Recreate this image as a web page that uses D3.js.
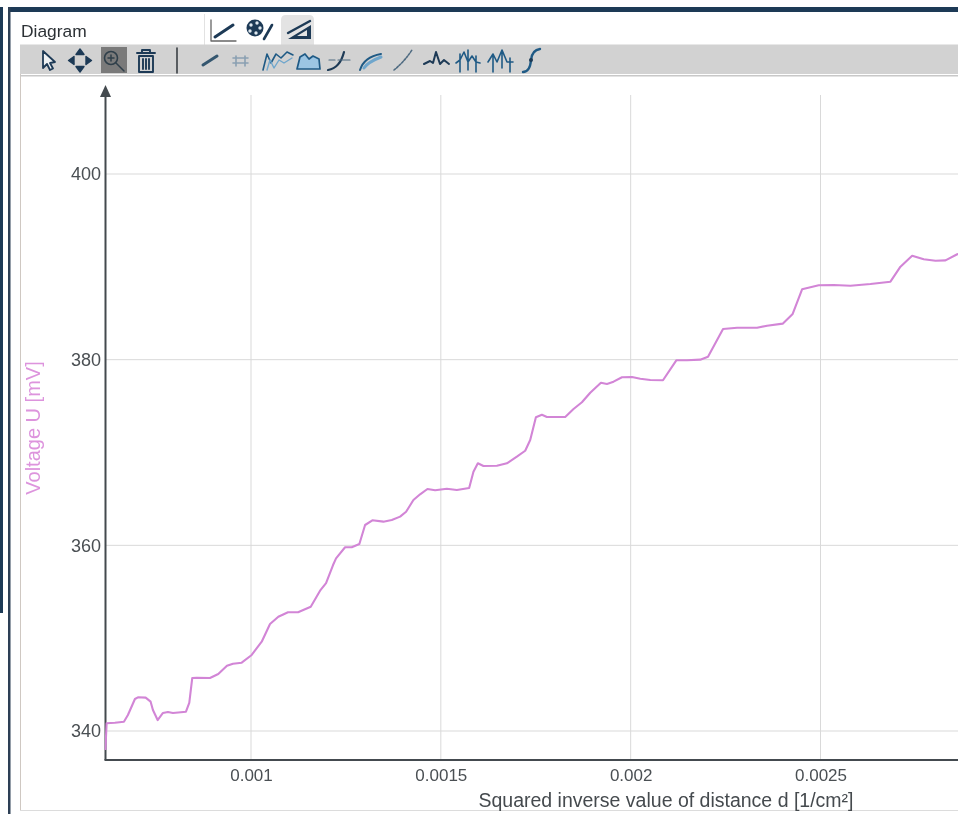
<!DOCTYPE html>
<html><head><meta charset="utf-8">
<style>html,body{margin:0;padding:0;background:#fff;overflow:hidden}svg{display:block;filter:blur(0.45px)}
text{font-family:"Liberation Sans",Arial,sans-serif}</style>
<script src="https://cdn.jsdelivr.net/npm/d3@7"></script></head><body>
<script>
const distance = [0.6165,0.6197,0.6415,0.6653,0.6758,0.6943,0.7022,0.7225,0.7356,0.7417,0.7541,0.7681,0.7812,0.7944,0.8287,0.8374,0.8453,0.8569,0.8919,0.9138,0.9367,0.9526,0.9755,1.0018,1.0282,1.0501,1.0720,1.0975,1.1239,1.1574,1.1819,1.1977,1.2161,1.2240,1.2478,1.2654,1.2854,1.3005,1.3197,1.3487,1.3708,1.3927,1.4085,1.4278,1.4454,1.4647,1.4850,1.5158,1.5422,1.5746,1.5859,1.5975,1.6123,1.6476,1.6740,1.7003,1.7222,1.7354,1.7504,1.7662,1.7794,1.8276,1.8495,1.8716,1.8935,1.9217,1.9375,1.9549,1.9771,2.0034,2.0253,2.0517,2.0851,2.1202,2.1484,2.1834,2.2037,2.2433,2.2802,2.3329,2.3593,2.4004,2.4267,2.4515,2.4953,2.5348,2.5788,2.6315,2.6842,2.7106,2.7414,2.7720,2.8029,2.8292,2.8601,2.8700].map(v=>v/1000);
const voltage = [337.95,340.83,340.89,341.0,341.72,343.45,343.63,343.59,343.16,342.26,341.18,341.94,342.05,341.94,342.08,343.02,345.71,345.74,345.71,346.14,347.03,347.25,347.36,348.19,349.62,351.53,352.31,352.79,352.79,353.39,355.11,355.94,357.88,358.60,359.79,359.79,360.14,362.19,362.70,362.55,362.73,363.09,363.62,364.88,365.50,366.07,365.93,366.10,365.96,366.18,367.93,368.84,368.55,368.58,368.84,369.55,370.19,371.35,373.79,374.07,373.83,373.83,374.69,375.41,376.44,377.52,377.38,377.63,378.10,378.13,377.95,377.81,377.78,379.93,379.93,380.0,380.32,383.30,383.44,383.44,383.66,383.88,384.92,387.58,388.01,388.05,387.97,388.15,388.40,390.02,391.20,390.81,390.66,390.70,391.35,391.45];
const xTickValues = [0.001,0.0015,0.002,0.0025];
const xTickLabels = ["0.001","0.0015","0.002","0.0025"];
const yTickValues = [340,360,380,400];
const xTitle = "Squared inverse value of distance d [1/cm²]";
const yTitle = "Voltage U [mV]";
const panelTitle = "Diagram";

const W=962,H=814;
const svg=d3.select("body").append("svg").attr("width",W).attr("height",H);
const navy="#1d3a56", icon="#1f5a85", dark="#444a4f";
const x=d3.scaleLinear().domain([0.001,0.0025]).range([251,820.5]);
const y=d3.scaleLinear().domain([340,400]).range([731,174]);
const xL=x.invert(105.5), yB=y.invert(760), yT=y.invert(95), xR=x.invert(958);

// window chrome
svg.append("rect").attr("x",8).attr("y",7).attr("width",950).attr("height",5).attr("fill",navy);
svg.append("rect").attr("x",0).attr("y",7).attr("width",3).attr("height",606).attr("fill",navy);
svg.append("rect").attr("x",8).attr("y",7).attr("width",2.5).attr("height",807).attr("fill","#2d3f55");
svg.append("rect").attr("x",20).attr("y",45).attr("width",1).attr("height",765).attr("fill","#cfc8c2");
svg.append("rect").attr("x",20).attr("y",810).attr("width",938).attr("height",1).attr("fill","#dcdcdc");
svg.append("rect").attr("x",204).attr("y",14).attr("width",1).attr("height",31).attr("fill","#e2e2e2");
svg.append("path").attr("d","M281,45V20q0,-5 5,-5H309q5,0 5,5V45Z").attr("fill","#e3e3e3");
svg.append("rect").attr("x",20).attr("y",44.5).attr("width",938).attr("height",29.5).attr("fill","#d2d2d2");
svg.append("rect").attr("x",20).attr("y",75).attr("width",938).attr("height",1.5).attr("fill","#c8c8c8");
svg.append("text").attr("x",21).attr("y",36.5).attr("font-size",17.4).attr("fill","#2c3135").text(panelTitle);

// tab icons
const ic=svg.append("g").attr("fill","none").attr("stroke-linecap","round").attr("stroke-linejoin","round");
ic.append("path").attr("d","M211,20V41H236").attr("stroke","#666").attr("stroke-width",1.3);
ic.append("path").attr("d","M215,37L233,25").attr("stroke",navy).attr("stroke-width",3);
ic.append("circle").attr("cx",255).attr("cy",28).attr("r",8.5).attr("fill",navy);
[[251,25],[257,23],[260,28],[256,33],[250,31]].forEach(p=>ic.append("circle").attr("cx",p[0]).attr("cy",p[1]).attr("r",1.7).attr("fill","#dfe8ef"));
ic.append("path").attr("d","M264,39L272,25").attr("stroke",navy).attr("stroke-width",2.6);
ic.append("path").attr("d","M288,39H311V25ZM297,36H307V30Z").attr("fill",navy).attr("fill-rule","evenodd");
ic.append("path").attr("d","M288,33L310,21").attr("stroke",navy).attr("stroke-width",2.4);

// toolbar icons
ic.append("path").attr("d","M43,51L43,68L47,64L50,70L53,68.5L50,63L55,62Z").attr("stroke",navy).attr("stroke-width",1.8).attr("fill","#eef1f3");
[[80,52,0],[88.5,60.5,90],[80,69,180],[71.5,60.5,270]].forEach(p=>ic.append("path").attr("d","M-4,2.5L0,-3L4,2.5Z").attr("transform",`translate(${p[0]},${p[1]}) rotate(${p[2]})`).attr("fill",navy).attr("stroke",navy).attr("stroke-width",1.4));
svg.insert("rect","g").attr("x",101).attr("y",47).attr("width",26).attr("height",26).attr("fill","#7a7a7a");
ic.append("circle").attr("cx",111).attr("cy",58).attr("r",6.5).attr("stroke","#2f3f4a").attr("stroke-width",1.6);
ic.append("path").attr("d","M116,63L124,71M108,58H114M111,55V61").attr("stroke","#2f3f4a").attr("stroke-width",1.5);
ic.append("path").attr("d","M137,53H155M142,53V50H150V53M139,56H153V72H139ZM143,59V69M146,59V69M149,59V69").attr("stroke",navy).attr("stroke-width",1.9);
ic.append("path").attr("d","M165,48V73").attr("stroke","#3a3f44").attr("stroke-width",0).attr("opacity",0);
ic.append("path").attr("d","M177,48V73").attr("stroke","#3a3f44").attr("stroke-width",1.6);
ic.append("path").attr("d","M203,65L217,56").attr("stroke","#34566f").attr("stroke-width",3);
ic.append("path").attr("d","M233,58H248M233,63H248M236,56V66M245,56V66").attr("stroke","#8aa0b2").attr("stroke-width",1.6);
ic.append("path").attr("d","M263,70L267,54L271,63L276,54L281,58L287,52L293,55").attr("stroke",icon).attr("stroke-width",1.6);
ic.append("path").attr("d","M267,70L270,60L274,68L279,60L284,63L292,58").attr("stroke","#6fa6cc").attr("stroke-width",1.4);
ic.append("path").attr("d","M297,69L300,57L305,54L309,59L313,56L319,59L320,69Z").attr("fill","#9cc5e3").attr("stroke",icon).attr("stroke-width",1.7);
ic.append("path").attr("d","M328,70Q340,68 344,52").attr("stroke",navy).attr("stroke-width",2.2);
ic.append("path").attr("d","M329,60H335M338,60H350").attr("stroke","#4e6a80").attr("stroke-width",1.2);
ic.append("path").attr("d","M360,70Q364,57 381,54").attr("stroke",icon).attr("stroke-width",2);
ic.append("path").attr("d","M364,68Q368,62 381,57").attr("stroke","#6fa6cc").attr("stroke-width",3);
ic.append("path").attr("d","M394,70Q404,62 412,50").attr("stroke","#4e6a80").attr("stroke-width",1.6).attr("stroke-dasharray","2 1.5");
ic.append("path").attr("d","M424,64L430,61L433,63L436,52L440,64L444,60L449,64").attr("stroke",navy).attr("stroke-width",2);
ic.append("path").attr("d","M456,63L460,60L464,52L468,62L472,56L476,62L480,63M460,54V72M468,50V70M476,56V72").attr("stroke",icon).attr("stroke-width",1.6);
ic.append("path").attr("d","M488,62L493,54L497,62L502,50L507,62L513,62M493,54V72M502,50V68M510,58V72").attr("stroke",icon).attr("stroke-width",1.6);
ic.append("path").attr("d","M523,72Q530,72 531,60Q532,50 540,49").attr("stroke",icon).attr("stroke-width",2.4);
ic.append("circle").attr("cx",531).attr("cy",60).attr("r",2).attr("fill",navy);

// grid
const grid=svg.append("g").attr("stroke","#d9d9d9").attr("stroke-width",1);
grid.selectAll("line.v").data(xTickValues).join("line").attr("x1",d=>x(d)).attr("x2",d=>x(d)).attr("y1",y(yT)).attr("y2",y(yB));
grid.selectAll("line.h").data(yTickValues).join("line").attr("x1",x(xL)).attr("x2",x(xR)).attr("y1",d=>y(d)).attr("y2",d=>y(d));

// axes
const gx=svg.append("g").attr("transform",`translate(0,${y(yB)})`).call(d3.axisBottom(x).tickValues(xTickValues).tickFormat((d,i)=>xTickLabels[i]).tickSize(0).tickPadding(8.5));
gx.select(".domain").remove();
gx.selectAll("text").attr("font-size",17).attr("fill","#4a4f53").style("font-family",'"Liberation Sans",Arial,sans-serif');
const gy=svg.append("g").attr("transform",`translate(${x(xL)},0)`).call(d3.axisLeft(y).tickValues(yTickValues).tickSize(0).tickPadding(4.5));
gy.select(".domain").remove();
gy.selectAll("text").attr("font-size",18).attr("fill","#4a4f53").style("font-family",'"Liberation Sans",Arial,sans-serif');

svg.append("line").attr("x1",x(xL)-1).attr("x2",x(xR)).attr("y1",y(yB)).attr("y2",y(yB)).attr("stroke",dark).attr("stroke-width",2);
svg.append("line").attr("x1",x(xL)).attr("x2",x(xL)).attr("y1",y(yB)).attr("y2",96).attr("stroke",dark).attr("stroke-width",2);
svg.append("path").attr("d",`M${x(xL)-5.5},97L${x(xL)},85L${x(xL)+5.5},97Z`).attr("fill",dark);

// line
svg.append("clipPath").attr("id","c").append("rect").attr("x",x(xL)-1).attr("y",80).attr("width",x(xR)-x(xL)+1).attr("height",680);
svg.append("path").datum(distance.map((d,i)=>[d,voltage[i]])).attr("clip-path","url(#c)")
  .attr("d",d3.line().x(d=>x(d[0])).y(d=>y(d[1]))).attr("fill","none").attr("stroke","#d285d6").attr("stroke-width",2.1).attr("stroke-linejoin","round");

svg.append("text").attr("x",853.5).attr("y",806.5).attr("text-anchor","end").attr("font-size",19.5).attr("fill","#454a4e").text(xTitle);
svg.append("text").attr("transform","translate(39.5,428) rotate(-90)").attr("text-anchor","middle").attr("font-size",20).attr("fill","#dd94dd").text(yTitle);
</script></body></html>
